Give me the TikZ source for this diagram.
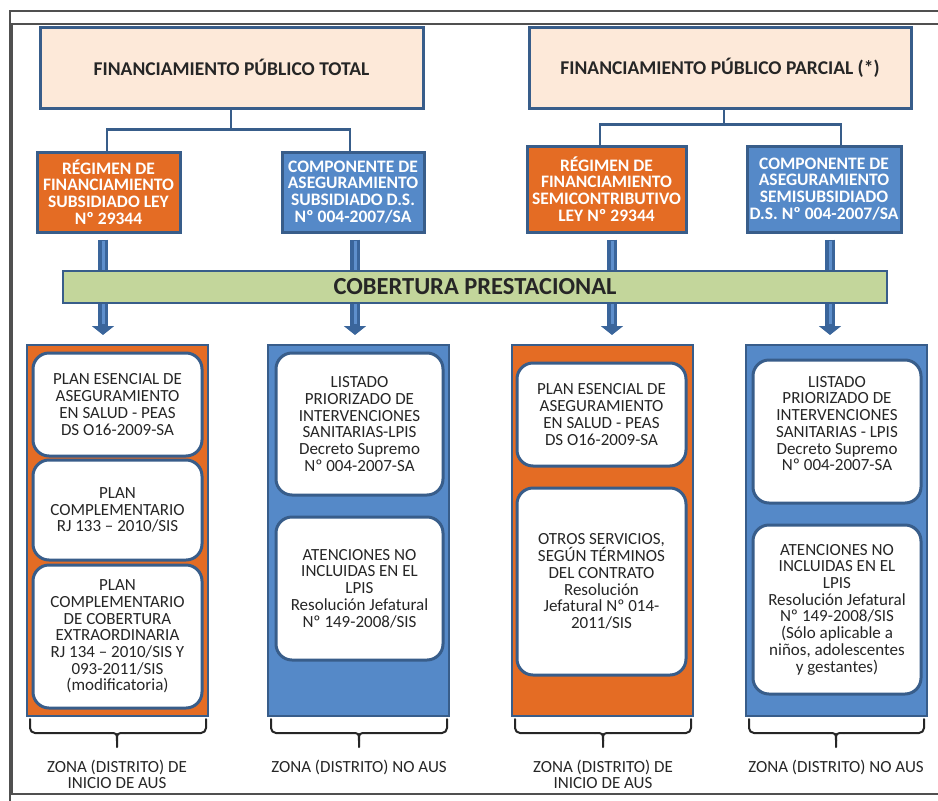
\documentclass[tikz,border=0pt]{standalone}
\usepackage{fontspec}
\setmainfont{Carlito}
\usetikzlibrary{arrows.meta,calc}

\definecolor{edgeblue}{HTML}{385D8A}
\definecolor{peach}{HTML}{FDE9D9}
\definecolor{orangefill}{HTML}{E46C24}
\definecolor{bluefill}{HTML}{5589C8}
\definecolor{greenfill}{HTML}{C3D69B}
\definecolor{arrowdark}{HTML}{3A659B}
\definecolor{arrowlight}{HTML}{5E8FCC}
\definecolor{inkgrey}{HTML}{262626}
\definecolor{framegrey}{HTML}{505050}

\tikzset{
  titlebox/.style={draw=edgeblue, line width=3pt, fill=peach, text=inkgrey,
    font=\fontsize{19.5}{22}\selectfont\bfseries, inner sep=0pt},
  regbox/.style={draw=edgeblue, line width=3pt, text=white, align=center,
    font=\fontsize{17.5}{16.7}\selectfont\bfseries, inner sep=0pt},
  panel/.style={draw=edgeblue, line width=2pt, inner sep=0pt},
  wbox/.style={draw=edgeblue, line width=3pt, fill=white, rounded corners=16pt,
    text=inkgrey, align=center, font=\fontsize{17}{16.7}\selectfont, inner sep=0pt},
  bodytext/.style={text=inkgrey, align=center, font=\fontsize{17}{16.7}\selectfont, inner sep=0pt},
  treeline/.style={draw=edgeblue, line width=2.5pt},
  bigarrow/.style={draw=arrowdark, line width=10pt,
    -{Triangle[width=22pt,length=9pt]}},
  arrowshine/.style={draw=arrowlight, line width=3pt},
  bracestyle/.style={draw=inkgrey, line width=2pt, line cap=round, line join=round},
  frameline/.style={draw=framegrey, line width=1.5pt}
}

% bracket under a column: left x, right x, centre x
\newcommand\zonebrace[3]{%
  \draw[bracestyle, rounded corners=5pt] (#1,719) -- (#1,733) -- ($(#3,733)+(-8,0)$);
  \draw[bracestyle, rounded corners=5pt] (#2,719) -- (#2,733) -- ($(#3,733)+(8,0)$);
  \draw[bracestyle] ($(#3,733)+(-8,0)$) .. controls (#3,733) .. (#3,741) -- (#3,747);
  \draw[bracestyle] ($(#3,733)+(8,0)$) .. controls (#3,733) .. (#3,741);
}

\begin{document}
\begin{tikzpicture}[x=1pt,y=-1pt]
  \useasboundingbox[fill=white] (0,0) rectangle (938,801);

  % page frame
  \draw[frameline] (938,11) -- (10,11) -- (10,801);
  \draw[frameline] (938,24) -- (12,24) -- (12,794) -- (938,794);

  % financing headers
  \node[titlebox, minimum width=383pt, minimum height=81pt] (t1) at (231.5,67.5)
    {FINANCIAMIENTO PÚBLICO TOTAL};
  \node[titlebox, minimum width=382pt, minimum height=81pt] (t2) at (720,67.5)
    {FINANCIAMIENTO PÚBLICO PARCIAL (*)};

  % regimes
  \node[regbox, fill=orangefill, minimum width=143pt, minimum height=80pt] (r1) at (108.5,192)
    {RÉGIMEN DE\\FINANCIAMIENTO\\SUBSIDIADO LEY\\Nº 29344};
  \node[regbox, fill=bluefill, minimum width=142pt, minimum height=80pt] (r2) at (353,192)
    {COMPONENTE DE\\ASEGURAMIENTO\\SUBSIDIADO D.S.\\Nº 004-2007/SA};
  \node[regbox, fill=orangefill, minimum width=159pt, minimum height=86pt] (r3) at (606.5,189)
    {RÉGIMEN DE\\FINANCIAMIENTO\\SEMICONTRIBUTIVO\\LEY Nº 29344};
  \node[regbox, fill=bluefill, minimum width=154pt, minimum height=86pt] (r4) at (824,189)
    {COMPONENTE DE\\ASEGURAMIENTO\\SEMISUBSIDIADO\\D.S. Nº 004-2007/SA};

  % tree connectors
  \draw[treeline] ([xshift=-0.5pt]t1.south) -- ++(0,20) -| ([xshift=-1.5pt]r1.north);
  \draw[treeline] ([xshift=-0.5pt]t1.south) -- ++(0,20) -| ([xshift=-3pt]r2.north);
  \draw[treeline] ([xshift=4pt]t2.south) -- ++(0,15) -| ([xshift=-6.5pt]r3.north);
  \draw[treeline] ([xshift=4pt]t2.south) -- ++(0,15) -| ([xshift=17pt]r4.north);

  % coverage panels
  \node[panel, fill=orangefill, minimum width=181pt, minimum height=371pt] (p1) at (117.5,530.5) {};
  \node[panel, fill=bluefill, minimum width=181pt, minimum height=371pt] (p2) at (358.5,530.5) {};
  \node[panel, fill=orangefill, minimum width=181pt, minimum height=371pt] (p3) at (602.5,530.5) {};
  \node[panel, fill=bluefill, minimum width=181pt, minimum height=371pt] (p4) at (836.5,530.5) {};

  % arrow tips above the panels
  \coordinate (a1) at (103,335);
  \coordinate (a2) at (355,335);
  \coordinate (a3) at (612,335);
  \coordinate (a4) at (830,335);
  \foreach \r/\a in {r1/a1, r2/a2, r3/a3, r4/a4}{
    \draw[bigarrow] (\r.south -| \a) ++(0,6) -- (\a);
    \draw[arrowshine] (\r.south -| \a) ++(0,7) -- ($(\a)+(0,-11)$);
  }

  % coverage band
  \node[draw=edgeblue, line width=2.5pt, fill=greenfill, minimum width=824pt, minimum height=32pt,
        inner sep=0pt, text=inkgrey, font=\fontsize{24.5}{26}\selectfont\bfseries] (cob) at (475,287)
    {COBERTURA PRESTACIONAL};

  % plans in each panel
  \node[wbox, minimum width=169pt, minimum height=103pt] (p1a) at (117.5,404.5)
    {PLAN ESENCIAL DE\\ASEGURAMIENTO\\EN SALUD - PEAS\\DS O16-2009-SA};
  \node[wbox, minimum width=169pt, minimum height=100pt] (p1b) at (117.5,510)
    {PLAN\\COMPLEMENTARIO\\RJ 133 – 2010/SIS};
  \node[wbox, minimum width=169pt, minimum height=143pt] (p1c) at (117.5,636.5)
    {PLAN\\COMPLEMENTARIO\\DE COBERTURA\\EXTRAORDINARIA\\RJ 134 – 2010/SIS Y\\093-2011/SIS\\(modificatoria)};

  \node[wbox, minimum width=167pt, minimum height=142pt] (p2a) at (359.5,424)
    {LISTADO\\PRIORIZADO DE\\INTERVENCIONES\\SANITARIAS-LPIS\\Decreto Supremo\\Nº 004-2007-SA};
  \node[wbox, minimum width=167pt, minimum height=143pt] (p2b) at (359.5,588.5)
    {ATENCIONES NO\\INCLUIDAS EN EL\\LPIS\\Resolución Jefatural\\Nº 149-2008/SIS};

  \node[wbox, minimum width=169pt, minimum height=103pt] (p3a) at (601.5,414.5)
    {PLAN ESENCIAL DE\\ASEGURAMIENTO\\EN SALUD - PEAS\\DS O16-2009-SA};
  \node[wbox, minimum width=169pt, minimum height=187pt] (p3b) at (601.5,581.5)
    {OTROS SERVICIOS,\\SEGÚN TÉRMINOS\\DEL CONTRATO\\Resolución\\Jefatural Nº 014-\\2011/SIS};

  \node[wbox, minimum width=168pt, minimum height=143pt] (p4a) at (837,431.5) {};
  \node[bodytext] (p4atext) at (837,423.5)
    {LISTADO\\PRIORIZADO DE\\INTERVENCIONES\\SANITARIAS - LPIS\\Decreto Supremo\\Nº 004-2007-SA};
  \node[wbox, minimum width=168pt, minimum height=169pt] (p4b) at (837,609.5)
    {ATENCIONES NO\\INCLUIDAS EN EL\\LPIS\\Resolución Jefatural\\Nº 149-2008/SIS\\(Sólo aplicable a\\niños, adolescentes\\y gestantes)};

  % zone brackets and labels
  \zonebrace{30}{206}{117}
  \zonebrace{271}{447}{359}
  \zonebrace{515}{691}{603}
  \zonebrace{749}{924}{836}

  \node[bodytext, font=\fontsize{17}{15.7}\selectfont] (z1) at (117,774.5) {ZONA (DISTRITO) DE\\INICIO DE AUS};
  \node[bodytext] (z2) at (359,767) {ZONA (DISTRITO) NO AUS};
  \node[bodytext, font=\fontsize{17}{15.7}\selectfont] (z3) at (603,774.5) {ZONA (DISTRITO) DE\\INICIO DE AUS};
  \node[bodytext] (z4) at (836,767) {ZONA (DISTRITO) NO AUS};
\end{tikzpicture}
\end{document}
